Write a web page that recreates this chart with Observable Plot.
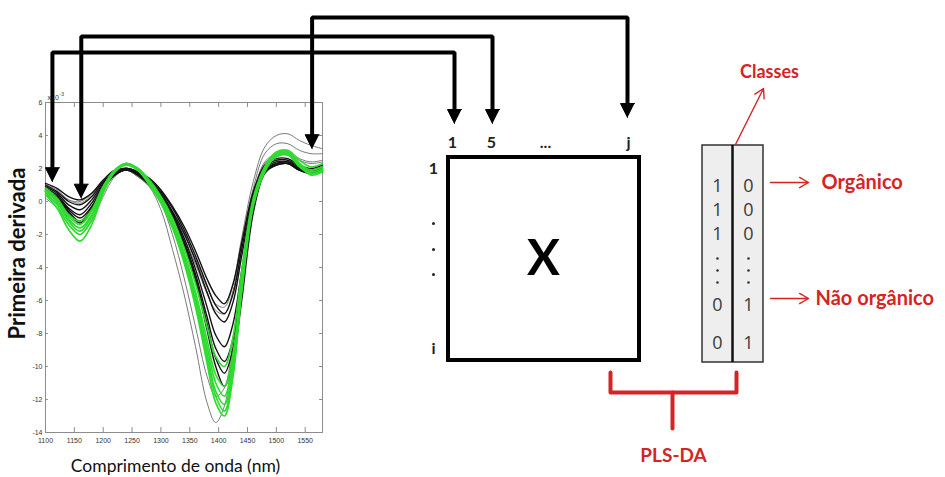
<!DOCTYPE html>
<html>
<head>
<meta charset="utf-8">
<script src="https://cdn.jsdelivr.net/npm/d3@7"></script>
<script src="https://cdn.jsdelivr.net/npm/@observablehq/plot@0.6"></script>
<style>
  html, body { margin: 0; padding: 0; background: #fff; }
  #wrap { position: relative; width: 945px; height: 477px; overflow: hidden; }
  #wrap svg { position: absolute; left: 0; top: 0; }
</style>
</head>
<body>
<div id="wrap"></div>
<script>
// ---------------- DATA ----------------
// First-derivative NIR spectra (values x 10^-3) at these wavelengths (nm)
const wavelengths = [1100,1120,1140,1160,1180,1200,1220,1240,1260,1280,1300,1320,1340,1360,1380,1395,1410,1425,1440,1460,1480,1500,1520,1540,1560,1580];

// non-organic samples (black)
const black1 = [1.1,0.8,0.3,0.1,0.5,1.3,1.9,2.0,1.8,1.4,0.7,-0.3,-1.5,-3.0,-4.7,-5.7,-6.2,-5.0,-2.5,0.6,2.2,2.6,2.6,2.2,2.0,2.2];
const black2 = [1.0,0.6,0.0,-0.2,0.3,1.2,1.8,2.0,1.8,1.3,0.6,-0.4,-1.7,-3.3,-5.1,-6.3,-6.8,-5.6,-2.9,0.4,2.1,2.5,2.5,2.1,1.9,2.1];
const black3 = [0.9,0.5,-0.2,-0.5,0.1,1.1,1.8,2.0,1.7,1.2,0.5,-0.6,-1.9,-3.6,-5.5,-6.8,-7.3,-6.1,-3.3,0.2,2.0,2.4,2.4,2.0,1.8,2.0];
const black4 = [0.8,0.4,-0.4,-0.8,-0.1,1.0,1.7,2.0,1.7,1.2,0.4,-0.7,-2.2,-4.1,-6.4,-8.1,-8.8,-7.4,-4.2,-0.1,1.9,2.3,2.3,1.9,1.8,1.9];
const black5 = [0.7,0.3,-0.5,-1.0,-0.3,0.9,1.7,2.0,1.7,1.1,0.3,-0.8,-2.4,-4.4,-7.0,-8.9,-9.7,-8.3,-4.9,-0.4,1.8,2.2,2.3,1.9,1.7,1.9];
const black6 = [0.7,0.2,-0.6,-1.2,-0.4,0.8,1.6,1.9,1.6,1.1,0.3,-0.9,-2.5,-4.6,-7.4,-9.5,-10.4,-8.9,-5.4,-0.5,1.8,2.3,2.4,2.0,1.8,2.0];
const black7 = [0.6,0.1,-0.7,-1.3,-0.5,0.8,1.6,1.9,1.6,1.0,0.3,-0.9,-2.6,-4.8,-7.8,-10.0,-11.2,-9.6,-6.0,-0.7,1.7,2.2,2.3,1.9,1.7,1.8];

// lighter grey samples
const grey1 = [0.2,-0.4,-1.4,-2.0,-1.2,0.3,1.5,1.9,1.5,0.9,-0.5,-2.9,-5.6,-8.8,-12.2,-13.4,-12.4,-9.0,-4.5,0.4,2.4,2.9,3.0,2.6,2.4,2.5];
const grey2 = [0.4,-0.1,-1.0,-1.6,-0.8,0.6,1.6,1.9,1.5,0.9,-0.1,-2.0,-4.6,-7.6,-10.6,-11.8,-11.3,-8.4,-4.3,0.3,2.3,2.8,2.9,2.5,2.3,2.4];
const grey3 = [1.0,0.6,0.1,0.0,0.5,1.3,1.9,2.0,1.7,1.1,0.4,-0.7,-2.0,-3.5,-5.2,-6.2,-6.4,-5.0,-2.2,1.2,3.3,4.0,4.1,3.7,3.4,3.2];
const grey4 = [1.0,0.7,0.1,-0.1,0.4,1.2,1.8,2.0,1.6,1.0,0.3,-0.8,-2.2,-3.8,-5.6,-6.6,-6.8,-5.4,-2.6,0.8,2.9,3.5,3.5,3.1,2.9,2.9];

// organic samples (green)
const green1 = [0.8,0.2,-0.8,-1.2,-0.5,0.9,1.9,2.3,2.0,1.3,0.3,-1.0,-2.8,-5.0,-7.6,-9.4,-10.0,-8.2,-4.2,0.2,2.1,2.8,2.9,2.3,1.9,2.1];
const green2 = [0.6,0.0,-1.1,-1.6,-0.8,0.8,1.9,2.3,2.0,1.2,0.2,-1.2,-3.1,-5.5,-8.4,-10.5,-11.2,-9.2,-4.8,0.0,2.0,2.8,2.9,2.2,1.8,2.0];
const green3 = [0.5,-0.2,-1.4,-2.0,-1.1,0.6,1.8,2.3,1.9,1.1,0.0,-1.4,-3.4,-6.0,-9.2,-11.5,-12.3,-10.0,-5.2,-0.2,1.9,2.9,3.0,2.3,1.7,1.9];
const green4 = [0.4,-0.4,-1.7,-2.4,-1.4,0.5,1.8,2.3,1.9,1.0,-0.1,-1.6,-3.7,-6.4,-9.8,-12.2,-13.0,-10.6,-5.5,-0.3,1.8,2.8,2.9,2.2,1.6,1.8];
const green5 = [0.7,0.1,-0.9,-1.4,-0.6,0.9,1.9,2.3,2.0,1.2,0.0,-1.5,-3.5,-6.1,-9.4,-11.8,-12.7,-10.3,-5.3,-0.1,2.1,3.0,3.1,2.5,2.1,2.3];
const green6 = [0.6,0.0,-1.2,-1.8,-0.9,0.7,1.8,2.2,1.9,1.2,0.1,-1.3,-3.2,-5.8,-8.8,-11.0,-11.8,-9.6,-5.0,-0.1,1.9,2.7,2.8,2.1,1.7,1.9];

// axis ticks and labels
const xTicks = [1100,1150,1200,1250,1300,1350,1400,1450,1500,1550];
const yTicks = [6,4,2,0,-2,-4,-6,-8,-10,-12,-14];
const xLabel = "Comprimento de onda (nm)";
const yLabel = "Primeira derivada";

// variables picked out on the spectra (wavelength, value) -> matrix columns
const pickedWavelengths = [1112, 1162, 1562];
const pickedValues = [1.2, 0.2, 3.2];
const columnLabels = ["1", "5", "...", "j"];
const rowLabels = ["1", "i"];
const matrixLabel = "X";

// class matrix Y
const classCol1 = ["1","1","1","0","0"];
const classCol2 = ["0","0","0","1","1"];
const classNames = ["Orgânico", "Não orgânico"];
const classesLabel = "Classes";
const methodLabel = "PLS-DA";

// ---------------- LAYOUT ----------------
const W = 945, H = 477;
const frame = {left: 45, right: 322, top: 102, bottom: 432};
const red = "#d42424";
const font = "Lato, 'Open Sans', sans-serif";

const series = [
  ...[grey1, grey2, grey3, grey4].map((v, i) => ({id: "grey" + i, group: "grey", values: v})),
  ...[black1, black2, black3, black4, black5, black6, black7].map((v, i) => ({id: "black" + i, group: "black", values: v})),
  ...[green1, green2, green3, green4, green5, green6].map((v, i) => ({id: "green" + i, group: "green", values: v}))
];
const rows = series.flatMap(s => s.values.map((v, i) => ({id: s.id, group: s.group, w: wavelengths[i], v})));
const byGroup = g => rows.filter(r => r.group === g);

const spec = Plot.plot({
  width: W, height: H,
  marginLeft: frame.left, marginRight: W - frame.right,
  marginTop: frame.top, marginBottom: H - frame.bottom,
  x: {domain: [1100, 1580], axis: null},
  y: {domain: [-14, 6], axis: null},
  style: {background: "#fff", overflow: "visible", fontFamily: "'Liberation Sans', sans-serif"},
  marks: [
    Plot.frame({stroke: "#8c8c8c", strokeWidth: 1}),
    Plot.ruleY(yTicks, {y: d => d, x1: 1100, x2: 1105, stroke: "#8c8c8c"}),
    Plot.ruleY(yTicks, {y: d => d, x1: 1575, x2: 1580, stroke: "#8c8c8c"}),
    Plot.ruleX(xTicks, {x: d => d, y1: -14, y2: -13.7, stroke: "#8c8c8c"}),
    Plot.ruleX(xTicks, {x: d => d, y1: 6, y2: 5.7, stroke: "#8c8c8c"}),
    Plot.text(yTicks, {x: 1100, y: d => d, text: d => String(d), textAnchor: "end", dx: -3, fontSize: 7, fill: "#333"}),
    Plot.text(xTicks, {x: d => d, y: -14, text: d => String(d), dy: 8, fontSize: 7, fill: "#333"}),
    Plot.text(["x10"], {x: 1100, y: 6, text: d => d, textAnchor: "start", lineAnchor: "bottom", dx: 2, dy: -3, fontSize: 7, fill: "#333"}),
    Plot.text(["-3"], {x: 1100, y: 6, text: d => d, textAnchor: "start", lineAnchor: "bottom", dx: 14, dy: -7, fontSize: 5, fill: "#333"}),
    Plot.line(byGroup("grey"), {x: "w", y: "v", z: "id", stroke: "#7a7a7a", strokeWidth: 1, curve: "catmull-rom"}),
    Plot.line(byGroup("black"), {x: "w", y: "v", z: "id", stroke: "#111", strokeWidth: 1.4, curve: "catmull-rom"}),
    Plot.line(byGroup("green"), {x: "w", y: "v", z: "id", stroke: "#2fdc2f", strokeWidth: 1.7, curve: "catmull-rom"})
  ]
});

// data -> pixel for the picked variables
const sxs = spec.scale("x"), sys = spec.scale("y");
const sx = d3.scaleLinear(sxs.domain, sxs.range);
const sy = d3.scaleLinear(sys.domain, sys.range);

// black connector arrows: spectrum -> matrix column
const arrowRight = [
  {x: 454, tip: 123, level: 52},
  {x: 492, tip: 123, level: 36},
  {x: 627, tip: 117, level: 17}
];
const head = 14, halfW = 7;
const arrowPaths = [], arrowHeads = [];
pickedWavelengths.forEach((w, k) => {
  const xL = sx(w), yL = sy(pickedValues[k]);
  const r = arrowRight[k];
  arrowPaths.push(
    {id: k, x: xL, y: yL - head + 2},
    {id: k, x: xL, y: r.level},
    {id: k, x: r.x, y: r.level},
    {id: k, x: r.x, y: r.tip - head + 2}
  );
  for (const [tx, ty] of [[xL, yL], [r.x, r.tip]]) {
    const id = k + "-" + tx;
    arrowHeads.push({id, x: tx, y: ty}, {id, x: tx - halfW, y: ty - head}, {id, x: tx + halfW, y: ty - head});
  }
});

const box = {x1: 448, x2: 639, y1: 157, y2: 360};
const ybox = {x1: 702, x2: 763, y1: 145, y2: 362, mid: 732};
const colLabelX = [452, 491, 545, 628];
const classRowY = [186, 210, 234, 305, 343];
const dotRowY = [258, 270, 282];

const textBase = {fontFamily: font};
const overlay = Plot.plot({
  width: W, height: H, margin: 0,
  x: {domain: [0, W], range: [0, W], axis: null},
  y: {domain: [0, H], range: [0, H], axis: null},
  style: {background: "transparent", overflow: "visible"},
  marks: [
    // axis titles of the spectrum
    Plot.text([xLabel], {x: 175, y: 466, text: d => d, fontSize: 17.5, fill: "#111", ...textBase}),
    Plot.text([yLabel], {x: 17, y: 253, text: d => d, rotate: -90, fontSize: 22, fontWeight: "bold", fill: "#111", ...textBase}),
    // connectors
    Plot.line(arrowPaths, {x: "x", y: "y", z: "id", stroke: "#000", strokeWidth: 4, strokeLinejoin: "miter", strokeLinecap: "butt"}),
    Plot.line(arrowHeads, {x: "x", y: "y", z: "id", fill: "#000", stroke: "#000", strokeWidth: 1, strokeLinejoin: "miter"}),
    // matrix X
    Plot.rect([box], {x1: "x1", x2: "x2", y1: "y1", y2: "y2", fill: "none", stroke: "#000", strokeWidth: 4}),
    Plot.text(columnLabels, {x: (d, i) => colLabelX[i], y: 142, text: d => d, fontSize: 16, fontWeight: "bold", fill: "#222", ...textBase}),
    Plot.text(rowLabels, {x: 433, y: (d, i) => i === 0 ? 168 : 348, text: d => d, fontSize: 16, fontWeight: "bold", fill: "#222", ...textBase}),
    Plot.dot([223, 249, 274], {x: 433, y: d => d, r: 1.5, fill: "#222", stroke: "none"}),
    Plot.text([matrixLabel], {x: 543, y: 259, text: d => d, fontSize: 49, fontWeight: "bold", fill: "#000", ...textBase}),
    // class matrix Y
    Plot.rect([ybox], {x1: "x1", x2: "x2", y1: "y1", y2: "y2", fill: "#eeeeee", stroke: "#333", strokeWidth: 1.5}),
    Plot.ruleX([ybox.mid], {x: d => d, y1: ybox.y1, y2: ybox.y2, stroke: "#111", strokeWidth: 2.5}),
    Plot.text(classCol1, {x: 717, y: (d, i) => classRowY[i], text: d => d, fontSize: 18, fill: "#3a3a3a", fontFamily: "'Open Sans', sans-serif"}),
    Plot.text(classCol2, {x: 748, y: (d, i) => classRowY[i], text: d => d, fontSize: 18, fill: "#3a3a3a", fontFamily: "'Open Sans', sans-serif"}),
    Plot.dot(dotRowY, {x: 717, y: d => d, r: 1.3, fill: "#333", stroke: "none"}),
    Plot.dot(dotRowY, {x: 748, y: d => d, r: 1.3, fill: "#333", stroke: "none"}),
    // red annotations
    Plot.arrow([{x1: 770, y1: 182, x2: 808, y2: 182}, {x1: 770, y1: 298, x2: 808, y2: 298}, {x1: 735, y1: 144, x2: 763, y2: 88}],
      {x1: "x1", y1: "y1", x2: "x2", y2: "y2", stroke: red, strokeWidth: 1.4, headLength: 11}),
    Plot.text(classNames, {x: (d, i) => i === 0 ? 821 : 815, y: (d, i) => i === 0 ? 182 : 298, text: d => d, textAnchor: "start", fontSize: 20, fontWeight: "bold", fill: red, ...textBase}),
    Plot.text([classesLabel], {x: 769, y: 72, text: d => d, fontSize: 18, fontWeight: "bold", fill: red, ...textBase}),
    Plot.line([{x: 610, y: 372}, {x: 610, y: 392}, {x: 736, y: 392}, {x: 736, y: 372}], {x: "x", y: "y", stroke: red, strokeWidth: 4, strokeLinejoin: "round"}),
    Plot.line([{x: 672, y: 392}, {x: 672, y: 428}], {x: "x", y: "y", stroke: red, strokeWidth: 4}),
    Plot.text([methodLabel], {x: 673, y: 455, text: d => d, fontSize: 19, fontWeight: "bold", fill: red, ...textBase})
  ]
});

const wrap = document.getElementById("wrap");
wrap.appendChild(spec);
wrap.appendChild(overlay);
</script>
</body>
</html>
